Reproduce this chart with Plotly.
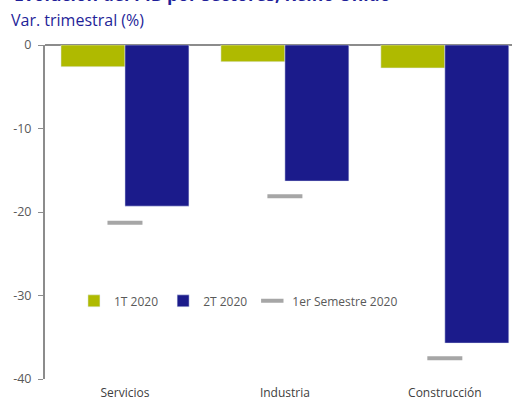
import plotly.graph_objects as go

categories = ["Servicios", "Industria", "Construcción"]
t1_2020 = [-2.6, -2.0, -2.75]
t2_2020 = [-19.3, -16.3, -35.7]
sem1_2020 = [-21.3, -18.1, -37.5]
y_ticks = [0, -10, -20, -30, -40]

GREEN = "#AFBA00"
BLUE = "#1B1B8B"
GRAY = "#A6A6A6"
FONT = "Open Sans"

fig = go.Figure()
fig.add_trace(go.Bar(x=categories, y=t1_2020, name="1T 2020", marker_color=GREEN))
fig.add_trace(go.Bar(x=categories, y=t2_2020, name="2T 2020", marker_color=BLUE))
fig.add_trace(go.Scatter(
    x=categories, y=sem1_2020, name="1er Semestre 2020", mode="markers",
    marker=dict(symbol="line-ew", size=25, line=dict(width=4, color=GRAY), color=GRAY),
))

fig.update_layout(
    width=512, height=401,
    margin=dict(l=45, r=0, t=45, b=22),
    paper_bgcolor="white", plot_bgcolor="white",
    barmode="group", bargap=0.2, bargroupgap=0,
    showlegend=True,
    legend=dict(orientation="h", x=0.062, y=0.234, xanchor="left", yanchor="middle",
                font=dict(family=FONT, size=12, color="#595959"),
                bgcolor="rgba(0,0,0,0)", itemwidth=30, tracegroupgap=0),
    font=dict(family=FONT, size=12, color="#595959"),
)
fig.update_xaxes(
    range=[-0.5, 2.42], showgrid=False, showline=False, ticks="",
    ticklabelstandoff=5, automargin=False,
    tickfont=dict(family=FONT, size=12, color="#404040"),
)
fig.update_yaxes(
    range=[-40, 0], tickvals=y_ticks, ticktext=[str(v) for v in y_ticks],
    showgrid=False, showline=True, linecolor="#8C8C8C", linewidth=2,
    ticks="outside", ticklen=5, tickcolor="#8C8C8C", tickwidth=1,
    zeroline=True, zerolinecolor="#8C8C8C", zerolinewidth=2,
    ticklabelstandoff=4, automargin=False,
    tickfont=dict(family=FONT, size=12.5, color="#595959"),
)

fig.add_annotation(text="<b>Evolución del PIB por sectores, Reino Unido</b>",
                   xref="paper", yref="paper", x=-33/467, y=1 + 51/334,
                   xanchor="left", yanchor="middle", showarrow=False,
                   font=dict(family=FONT, size=17.5, color="#1F1F99"))
fig.add_annotation(text="Var. trimestral (%)",
                   xref="paper", yref="paper", x=-36/467, y=1 + 25/334,
                   xanchor="left", yanchor="middle", showarrow=False,
                   font=dict(family=FONT, size=16, color="#1F1F99"))

fig.write_html("out.html")
